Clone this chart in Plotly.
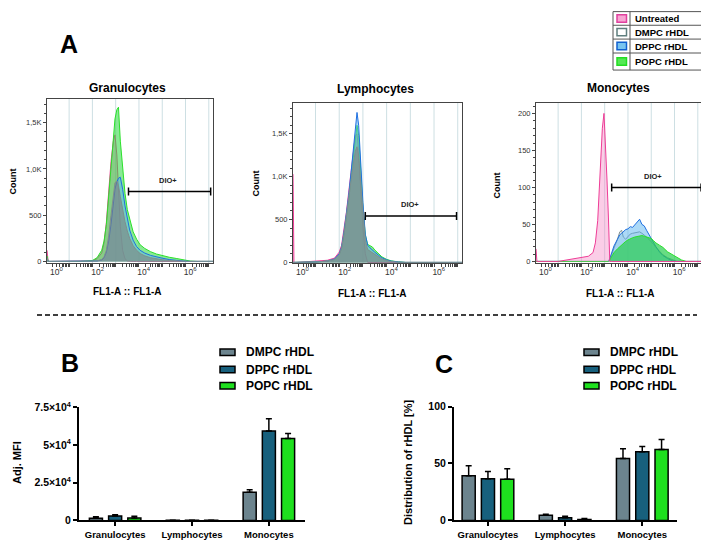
import math
import plotly.graph_objects as go

W, H = 709, 543
OFF = 8                    # the page body adds an 8px margin around the figure
FW, FH = W - OFF, H - OFF
FONT = "Arial, Liberation Sans, sans-serif"


def fx(p):
    return (p - OFF) / FW


def fy(p):
    return 1 - (p - OFF) / FH


# ---------------- DATA ----------------
series_names = ["Untreated", "DMPC rHDL", "DPPC rHDL", "POPC rHDL"]
hist_tick_text = ["10<sup>0</sup>", "10<sup>2</sup>", "10<sup>4</sup>", "10<sup>6</sup>"]

# x values in decades of FL1-A (display scale)
gran_x = [0.05, 0.1, 0.2, 1.5, 2.0, 2.2, 2.4, 2.5, 2.6, 2.7, 2.8, 2.9, 2.97, 3.05, 3.12, 3.2, 3.3,
          3.4, 3.5, 3.6, 3.75, 3.9, 4.05, 4.25, 4.5, 4.75, 5.0, 5.3, 5.6, 5.9, 6.2, 6.5, 7.18]
gran_untreated = [120, 0, 0, 0, 5, 30, 90, 200, 420, 750, 1080, 1300, 1368, 1150, 750, 380, 120,
                  30, 5, 0, 0, 0, 0, 0, 0, 0, 0, 0, 0, 0, 0, 0, 0]
gran_dmpc = [40, 0, 0, 0, 0, 5, 20, 50, 120, 280, 500, 720, 850, 870, 820, 700, 560,
             430, 330, 250, 170, 120, 85, 60, 40, 28, 18, 10, 5, 0, 0, 0, 0]
gran_dppc = [30, 0, 0, 0, 0, 5, 15, 40, 100, 220, 400, 600, 780, 860, 900, 910, 780,
             600, 450, 340, 230, 160, 120, 90, 65, 48, 35, 20, 10, 4, 0, 0, 0]
gran_popc = [60, 0, 0, 0, 10, 40, 120, 220, 400, 700, 1000, 1330, 1540, 1640, 1667, 1300, 1000,
             737, 560, 450, 320, 240, 180, 140, 105, 80, 62, 45, 32, 18, 4, 0, 0]

lymph_x = [0.05, 0.09, 0.2, 1.0, 1.5, 1.8, 2.0, 2.1, 2.2, 2.3, 2.4, 2.5, 2.6, 2.68, 2.75, 2.82,
           2.9, 3.0, 3.1, 3.2, 3.3, 3.4, 3.5, 3.65, 3.8, 4.0, 4.2, 4.5, 4.8, 7.18]
lymph_untreated = [1030, 0, 0, 10, 25, 50, 120, 200, 380, 580, 820, 1080, 1330, 1480, 1500, 1300,
                   900, 420, 100, 0, 0, 0, 0, 0, 0, 0, 0, 0, 0, 0]
lymph_dmpc = [0, 0, 0, 5, 15, 35, 90, 170, 330, 520, 740, 960, 1160, 1300, 1350, 1250,
              950, 560, 260, 150, 130, 110, 90, 65, 40, 22, 10, 3, 0, 0]
lymph_dppc = [0, 0, 0, 5, 15, 40, 100, 180, 350, 540, 780, 1050, 1330, 1560, 1750, 1600,
              1150, 700, 330, 200, 170, 150, 120, 85, 55, 30, 15, 5, 0, 0]
lymph_popc = [0, 0, 0, 5, 15, 35, 90, 160, 320, 500, 730, 990, 1260, 1450, 1600, 1480,
              1080, 640, 320, 210, 195, 180, 145, 100, 65, 35, 18, 6, 0, 0]

mono_x = [0.05, 0.09, 1.0, 1.6, 2.0, 2.3, 2.5, 2.6, 2.7, 2.8, 2.9, 2.97, 3.05, 3.1, 3.16, 3.22,
          3.3, 3.4, 3.55, 3.65, 3.73, 3.8, 3.9, 4.0, 4.1, 4.2, 4.3, 4.4, 4.5, 4.6, 4.7, 4.8,
          4.9, 5.0, 5.1, 5.2, 5.35, 5.5, 5.7, 5.9, 6.1, 6.3, 6.5, 7.18]
mono_untreated = [17, 0, 0, 3, 5, 7, 12, 25, 55, 115, 180, 200, 150, 110, 60, 0,
                  0, 0, 0, 0, 0, 0, 0, 0, 0, 0, 0, 0, 0, 0, 0, 0,
                  0, 0, 0, 0, 0, 0, 0, 0, 0, 0, 0, 0]
mono_dmpc = [0, 0, 0, 0, 0, 0, 0, 0, 0, 0, 0, 0, 0, 0, 0, 2,
             8, 18, 30, 40, 42, 33, 30, 34, 37, 38, 39, 40, 40, 38, 36, 33,
             30, 27, 23, 19, 14, 9, 5, 2, 0, 0, 0, 0]
mono_dppc = [0, 0, 0, 0, 0, 0, 0, 0, 0, 0, 0, 0, 0, 0, 0, 4,
             12, 21, 30, 36, 38, 40, 43, 44, 47, 46, 50, 53, 57, 50, 48, 42,
             36, 30, 24, 20, 13, 8, 4, 1, 0, 0, 0, 0]
mono_popc = [0, 0, 0, 0, 0, 0, 0, 0, 0, 0, 0, 0, 0, 0, 0, 2,
             6, 12, 17, 20, 23, 25, 27, 29, 31, 32, 33, 34, 35, 35, 34, 33,
             33, 31, 28, 25, 22, 19, 13, 9, 5, 2, 0, 0]

# DIO+ gates: (start, end, level, label_x, label_y)
gran_gate = [3.55, 7.08, 755, 5.25, 877]
lymph_gate = [3.1, 6.95, 542, 5.0, 674]
mono_gate = [3.3, 7.14, 100, 5.06, 115]

# Bar charts
cell_types = ["Granulocytes", "Lymphocytes", "Monocytes"]
bar_series = ["DMPC rHDL", "DPPC rHDL", "POPC rHDL"]

mfi_dmpc = [1500, 80, 18800]
mfi_dmpc_err = [900, 30, 1500]
mfi_dppc = [3000, 60, 59400]
mfi_dppc_err = [700, 30, 8200]
mfi_popc = [1700, 50, 54400]
mfi_popc_err = [1100, 30, 3300]
mfi_ticks = [0, 25000, 50000, 75000]
mfi_tick_text = ["0", "2.5×10<sup>4</sup>", "5×10<sup>4</sup>", "7.5×10<sup>4</sup>"]

dist_dmpc = [39.3, 4.6, 54.4]
dist_dmpc_err = [8.7, 0.8, 8.6]
dist_dppc = [36.7, 2.3, 60.2]
dist_dppc_err = [6.3, 1.4, 4.8]
dist_popc = [36.1, 0.9, 62.2]
dist_popc_err = [9.2, 0.8, 8.8]
dist_ticks = [0, 50, 100]

# ---------------- STYLES ----------------
hist_line = {"Untreated": "#EE3D96", "DMPC rHDL": "#7E8E8E", "DPPC rHDL": "#1F6FE0", "POPC rHDL": "#2BE02B"}
hist_fill = {"Untreated": "rgba(245,110,185,0.45)", "DMPC rHDL": "rgba(128,128,128,0.6)",
             "DPPC rHDL": "rgba(90,180,240,0.5)", "POPC rHDL": "rgba(40,215,60,0.55)"}
mono_fill = dict(hist_fill)
mono_fill["DMPC rHDL"] = "rgba(225,230,230,0.5)"
mono_fill["POPC rHDL"] = "rgba(40,205,80,0.7)"
mono_fill["Untreated"] = "rgba(245,130,195,0.4)"
bar_colors = {"DMPC rHDL": "#6C848E", "DPPC rHDL": "#17607D", "POPC rHDL": "#1EE01E"}

fig = go.Figure()

panels = [
    ("x", "y", gran_x, {"Untreated": gran_untreated, "DMPC rHDL": gran_dmpc, "DPPC rHDL": gran_dppc,
                        "POPC rHDL": gran_popc},
     ["Untreated", "POPC rHDL", "DPPC rHDL", "DMPC rHDL"], hist_fill),
    ("x2", "y2", lymph_x, {"Untreated": lymph_untreated, "DMPC rHDL": lymph_dmpc, "DPPC rHDL": lymph_dppc,
                           "POPC rHDL": lymph_popc},
     ["Untreated", "POPC rHDL", "DPPC rHDL", "DMPC rHDL"], hist_fill),
    ("x3", "y3", mono_x, {"Untreated": mono_untreated, "DMPC rHDL": mono_dmpc, "DPPC rHDL": mono_dppc,
                          "POPC rHDL": mono_popc},
     ["DMPC rHDL", "DPPC rHDL", "POPC rHDL", "Untreated"], mono_fill),
]
for xa, ya, xs, data, order, fills in panels:
    for name in order:
        fig.add_trace(go.Scatter(x=xs, y=data[name], mode="lines", name=name,
                                 line=dict(color=hist_line[name], width=1),
                                 fill="tozeroy", fillcolor=fills[name],
                                 xaxis=xa, yaxis=ya, showlegend=False, hoverinfo="skip"))

bar_sets = [
    ("x4", "y4", [mfi_dmpc, mfi_dppc, mfi_popc], [mfi_dmpc_err, mfi_dppc_err, mfi_popc_err]),
    ("x5", "y5", [dist_dmpc, dist_dppc, dist_popc], [dist_dmpc_err, dist_dppc_err, dist_popc_err]),
]
for xa, ya, vals, errs in bar_sets:
    for name, v, e in zip(bar_series, vals, errs):
        fig.add_trace(go.Bar(x=cell_types, y=v, name=name, offsetgroup=name,
                             marker=dict(color=bar_colors[name], line=dict(color="black", width=1.5)),
                             error_y=dict(type="data", array=e, arrayminus=[0] * len(e), symmetric=False,
                                          color="black", thickness=1.5, width=3),
                             xaxis=xa, yaxis=ya, showlegend=False, hoverinfo="skip"))

# ---------------- AXES ----------------
minor_x = []
for d in range(0, 8):
    for k in range(1, 10):
        v = d + math.log10(k)
        if 0.05 <= v <= 7.18:
            minor_x.append(v)


def hist_xaxis(px0, px1, anchor):
    return dict(domain=[fx(px0), fx(px1)], anchor=anchor, range=[0.05, 7.18],
                tickmode="array", tickvals=[0.45, 2.23, 4.2, 6.2], ticktext=hist_tick_text,
                ticks="", showgrid=False, zeroline=False, showline=True, linecolor="#444",
                linewidth=1, mirror=True, tickfont=dict(size=8.5, color="#333", family=FONT),
                minor=dict(tickmode="array", tickvals=minor_x, ticks="outside", ticklen=3,
                           tickcolor="#444", tickwidth=1, showgrid=False))


def hist_yaxis(py0, py1, anchor, rng, tv, tt, mdt):
    return dict(domain=[fy(py1), fy(py0)], anchor=anchor, range=rng, tickmode="array",
                tickvals=tv, ticktext=tt, ticks="outside", ticklen=3, tickcolor="#444",
                showgrid=False, zeroline=False, showline=True, linecolor="#444", linewidth=1,
                mirror=True, tickfont=dict(size=7.5, color="#333", family=FONT),
                minor=dict(dtick=mdt, tick0=0, ticks="outside", ticklen=2, tickcolor="#444",
                           showgrid=False))


layout_axes = dict(
    xaxis=hist_xaxis(47, 213, "y"),
    yaxis=hist_yaxis(93, 262, "x", [-21, 1758], [0, 500, 1000, 1500], ["0", "500", "1,0K", "1,5K"], 100),
    xaxis2=hist_xaxis(293, 462, "y2"),
    yaxis2=hist_yaxis(97, 262, "x2", [-11, 1864], [0, 500, 1000, 1500], ["0", "500", "1,0K", "1,5K"], 100),
    xaxis3=hist_xaxis(536, 702, "y3"),
    yaxis3=hist_yaxis(97, 262, "x3", [-2.6, 214.5], [0, 50, 100, 150, 200],
                      ["0", "50", "100", "150", "200"], 10),
)


def bar_xaxis(px0, px1, anchor, rng):
    return dict(domain=[fx(px0), fx(px1)], anchor=anchor, type="category", range=rng,
                showline=True, linecolor="black", linewidth=2, ticks="outside", ticklen=4,
                tickwidth=1.5, tickcolor="black", showgrid=False, zeroline=False,
                tickfont=dict(size=9.5, color="black", family=FONT, weight="bold"))


def bar_yaxis(py0, py1, anchor, rng, tv, tt):
    return dict(domain=[fy(py1), fy(py0)], anchor=anchor, range=rng, tickmode="array",
                tickvals=tv, ticktext=tt, ticks="outside", ticklen=4, tickwidth=1.5,
                tickcolor="black", showline=True, linecolor="black", linewidth=2,
                showgrid=False, zeroline=False,
                tickfont=dict(size=10.5, color="black", family=FONT, weight="bold"))


layout_axes["xaxis4"] = bar_xaxis(79, 305, "y4", [-0.47, 2.47])
layout_axes["yaxis4"] = bar_yaxis(410, 526, "x4", [0, 75000], mfi_ticks, mfi_tick_text)
layout_axes["xaxis5"] = bar_xaxis(454, 677, "y5", [-0.44, 2.45])
layout_axes["yaxis5"] = bar_yaxis(409, 526, "x5", [0, 100], dist_ticks, [str(t) for t in dist_ticks])

# ---------------- SHAPES ----------------
shapes = []
for xa, ya in [("x", "y"), ("x2", "y2"), ("x3", "y3")]:
    for g in range(1, 8):
        shapes.append(dict(type="line", xref=xa, yref=ya + " domain", x0=g, x1=g, y0=0, y1=1,
                           line=dict(color="#cddfe3", width=1), layer="below"))

for xa, ya, gate in [("x", "y", gran_gate), ("x2", "y2", lymph_gate), ("x3", "y3", mono_gate)]:
    x0, x1, lvl = gate[0], gate[1], gate[2]
    shapes.append(dict(type="line", xref=xa, yref=ya, x0=x0, x1=x1, y0=lvl, y1=lvl,
                       line=dict(color="black", width=1.5)))
    for xe in (x0, x1):
        shapes.append(dict(type="line", xref=xa, yref=ya, ysizemode="pixel", yanchor=lvl,
                           x0=xe, x1=xe, y0=-4, y1=4, line=dict(color="black", width=1.5)))

shapes.append(dict(type="line", xref="paper", yref="paper", x0=fx(37), x1=fx(697), y0=fy(315), y1=fy(315),
                   line=dict(color="black", width=1.5, dash="5px,3px")))

lx0, lx1, ldiv = 613, 705, 630
row_edges = [3.5, 17.5, 31.7, 46, 63.5]
shapes.append(dict(type="rect", xref="paper", yref="paper", x0=fx(lx0), x1=fx(lx1),
                   y0=fy(row_edges[-1]), y1=fy(row_edges[0]), line=dict(color="#555", width=1)))
shapes.append(dict(type="line", xref="paper", yref="paper", x0=fx(ldiv), x1=fx(ldiv),
                   y0=fy(row_edges[-1]), y1=fy(row_edges[0]), line=dict(color="#555", width=1)))
for e in row_edges[1:-1]:
    shapes.append(dict(type="line", xref="paper", yref="paper", x0=fx(lx0), x1=fx(lx1),
                       y0=fy(e), y1=fy(e), line=dict(color="#555", width=1)))
legA_fill = {"Untreated": "#F7A6D3", "DMPC rHDL": "#FFFFFF", "DPPC rHDL": "#78C4F0", "POPC rHDL": "#55E855"}
legA_line = {"Untreated": "#E0409E", "DMPC rHDL": "#5E7E7E", "DPPC rHDL": "#1060D0", "POPC rHDL": "#22DD22"}
annotations = []
for i, name in enumerate(series_names):
    cy = (row_edges[i] + row_edges[i + 1]) / 2
    shapes.append(dict(type="rect", xref="paper", yref="paper", x0=fx(617), x1=fx(626.5),
                       y0=fy(cy + 3.8), y1=fy(cy - 3.8), fillcolor=legA_fill[name],
                       line=dict(color=legA_line[name], width=1.5)))
    annotations.append(dict(text=name, x=fx(633), y=fy(cy), xref="paper", yref="paper",
                            xanchor="left", yanchor="middle", showarrow=False,
                            font=dict(size=9.5, family=FONT, color="black", weight="bold")))

leg_rows = [353.3, 371, 387.7]
for sx, tx in [(220, 244), (584, 608)]:
    for name, cy in zip(bar_series, leg_rows):
        shapes.append(dict(type="rect", xref="paper", yref="paper", x0=fx(sx), x1=fx(sx + 15),
                           y0=fy(cy + 3.3), y1=fy(cy - 3.3), fillcolor=bar_colors[name],
                           line=dict(color="black", width=1.5)))
        annotations.append(dict(text=name, x=fx(tx), y=fy(cy), xref="paper", yref="paper",
                                xanchor="left", yanchor="middle", showarrow=False,
                                font=dict(size=12, family=FONT, color="black", weight="bold")))


def ann(text, px, py, size, angle=0, weight="bold"):
    annotations.append(dict(text=text, x=fx(px), y=fy(py), xref="paper", yref="paper",
                            xanchor="center", yanchor="middle", showarrow=False, textangle=angle,
                            font=dict(size=size, family=FONT, color="black", weight=weight)))


ann("A", 69, 37, 25)
ann("B", 70, 364, 25)
ann("C", 444, 365, 25)
ann("Granulocytes", 127, 82, 12)
ann("Lymphocytes", 375, 83, 12)
ann("Monocytes", 618, 82, 12)
ann("Count", 13, 178, 9, angle=-90)
ann("Count", 256, 180, 9, angle=-90)
ann("Count", 497, 182, 9, angle=-90)
ann("FL1-A :: FL1-A", 127, 291, 10)
ann("FL1-A :: FL1-A", 372, 293, 10)
ann("FL1-A :: FL1-A", 620, 293, 10)
ann("Adj. MFI", 17, 467, 11, angle=-90)
ann("Distribution of rHDL [%]", 408, 467, 11, angle=-90)

for xa, ya, gate in [("x", "y", gran_gate), ("x2", "y2", lymph_gate), ("x3", "y3", mono_gate)]:
    annotations.append(dict(text="DIO+", x=gate[3], y=gate[4], xref=xa, yref=ya, showarrow=False,
                            xanchor="center", yanchor="middle",
                            font=dict(size=7.5, family=FONT, color="#222", weight="bold")))

fig.update_layout(
    width=FW, height=FH, margin=dict(l=0, r=0, t=0, b=0),
    paper_bgcolor="white", plot_bgcolor="white",
    barmode="group", bargap=0.25, bargroupgap=0.32,
    font=dict(family=FONT, color="black"),
    shapes=shapes, annotations=annotations, showlegend=False,
    **layout_axes,
)

fig.write_html("out.html")
